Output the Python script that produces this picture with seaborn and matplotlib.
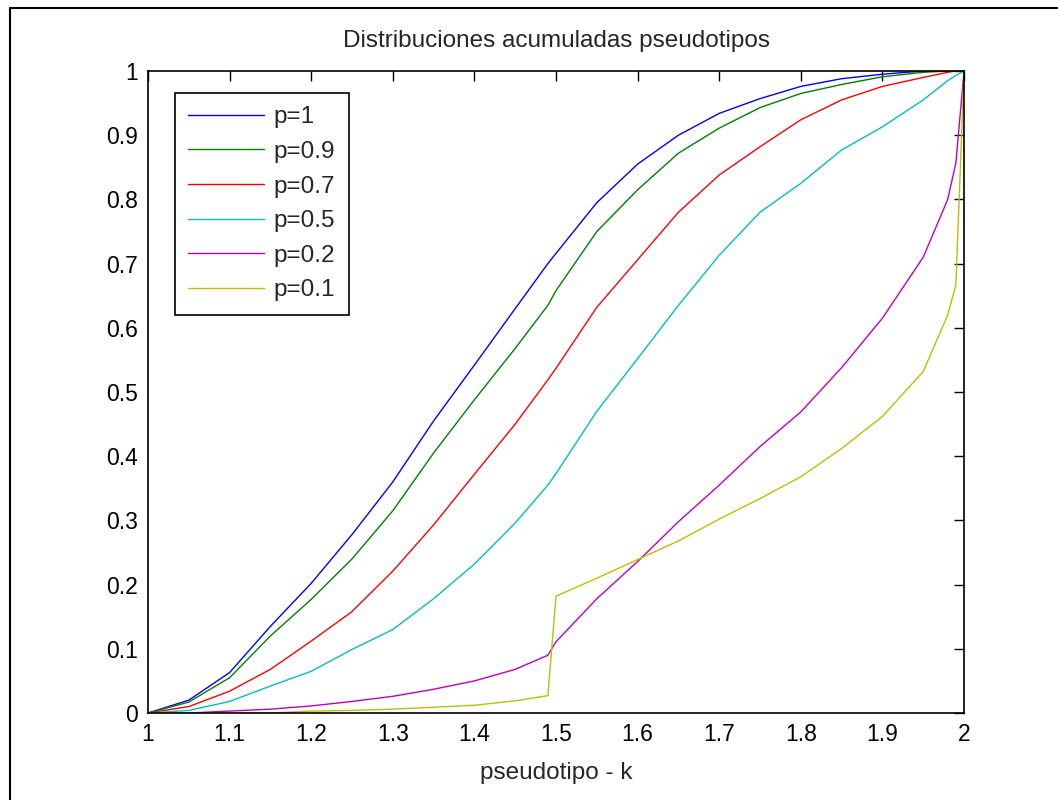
import matplotlib
matplotlib.use("Agg")
import matplotlib.pyplot as plt
import seaborn as sns
import pandas as pd
from matplotlib.lines import Line2D

# pseudotipo k grid (x values)
k = [1.00, 1.05, 1.10, 1.15, 1.20, 1.25, 1.30, 1.35, 1.40, 1.45, 1.49, 1.50,
     1.55, 1.60, 1.65, 1.70, 1.75, 1.80, 1.85, 1.90, 1.95, 1.98, 1.99, 2.00]

p_1 = [0, 0.020, 0.063, 0.135, 0.202, 0.278, 0.360, 0.455, 0.542, 0.630, 0.700, 0.716,
       0.795, 0.855, 0.900, 0.934, 0.957, 0.976, 0.988, 0.995, 1.0, 1.0, 1.0, 1.0]
p_09 = [0, 0.017, 0.055, 0.120, 0.177, 0.240, 0.315, 0.405, 0.488, 0.568, 0.635, 0.658,
        0.750, 0.815, 0.872, 0.911, 0.943, 0.965, 0.979, 0.991, 0.998, 1.0, 1.0, 1.0]
p_07 = [0, 0.010, 0.034, 0.068, 0.112, 0.158, 0.221, 0.293, 0.372, 0.450, 0.519, 0.537,
        0.632, 0.706, 0.780, 0.838, 0.882, 0.924, 0.955, 0.976, 0.990, 0.998, 1.0, 1.0]
p_05 = [0, 0.004, 0.018, 0.042, 0.065, 0.099, 0.130, 0.178, 0.232, 0.296, 0.355, 0.373,
        0.470, 0.552, 0.635, 0.713, 0.780, 0.825, 0.877, 0.913, 0.955, 0.985, 0.993, 1.0]
p_02 = [0, 0.0, 0.003, 0.006, 0.011, 0.018, 0.026, 0.037, 0.050, 0.068, 0.090, 0.111,
        0.178, 0.236, 0.298, 0.355, 0.415, 0.469, 0.538, 0.615, 0.710, 0.800, 0.857, 1.0]
p_01 = [0, 0, 0, 0, 0.003, 0.004, 0.006, 0.009, 0.012, 0.019, 0.027, 0.182,
        0.210, 0.239, 0.268, 0.302, 0.334, 0.368, 0.412, 0.462, 0.532, 0.620, 0.667, 1.0]

labels = ["p=1", "p=0.9", "p=0.7", "p=0.5", "p=0.2", "p=0.1"]
series = [p_1, p_09, p_07, p_05, p_02, p_01]
colors = ["#0000ff", "#008000", "#ff0000", "#00bfbf", "#bf00bf", "#bfbf00"]

df = pd.concat(
    [pd.DataFrame({"k": k, "F": s, "p": lab}) for s, lab in zip(series, labels)],
    ignore_index=True,
)

sns.set_style("white")
plt.rcParams["font.family"] = ["Liberation Sans", "DejaVu Sans"]

fig = plt.figure(figsize=(10.58, 8), dpi=100)
ax = fig.add_axes([0.1399, 0.10875, 0.7713, 0.8025])

sns.lineplot(data=df, x="k", y="F", hue="p", hue_order=labels,
             palette=colors, estimator=None, sort=False, linewidth=1.0, ax=ax)

ax.set_xlim(1, 2)
ax.set_ylim(0, 1)
ax.set_xticks([1 + i / 10 for i in range(11)])
ax.set_xticklabels(["1", "1.1", "1.2", "1.3", "1.4", "1.5", "1.6", "1.7", "1.8", "1.9", "2"])
ax.set_yticks([i / 10 for i in range(11)])
ax.set_yticklabels(["0", "0.1", "0.2", "0.3", "0.4", "0.5", "0.6", "0.7", "0.8", "0.9", "1"])
ax.tick_params(axis="both", which="both", direction="in", length=7, width=1,
               top=True, right=True, labelsize=16.5, colors="black", pad=7)
for sp in ax.spines.values():
    sp.set_color("black")
    sp.set_linewidth(1.2)

ax.set_title("Distribuciones acumuladas pseudotipos", fontsize=17.5, pad=17)
ax.set_xlabel("pseudotipo - k", fontsize=17.5, labelpad=12)
ax.set_ylabel("")

leg = ax.legend(loc="upper left", bbox_to_anchor=(0.033, 0.966), borderaxespad=0,
                fontsize=17.5, handlelength=3.1, labelspacing=0.52, fancybox=False,
                framealpha=1, edgecolor="black", borderpad=0.55, handletextpad=0.42)
leg.get_frame().set_linewidth(1.2)

# outer frame of the original figure window
fig.add_artist(Line2D([10 / 1058, 10 / 1058], [0, 792 / 800], color="black", lw=1.5,
                      transform=fig.transFigure))
fig.add_artist(Line2D([10 / 1058, 1], [792 / 800, 792 / 800], color="black", lw=1.5,
                      transform=fig.transFigure))

fig.savefig("out.png", dpi=100)
